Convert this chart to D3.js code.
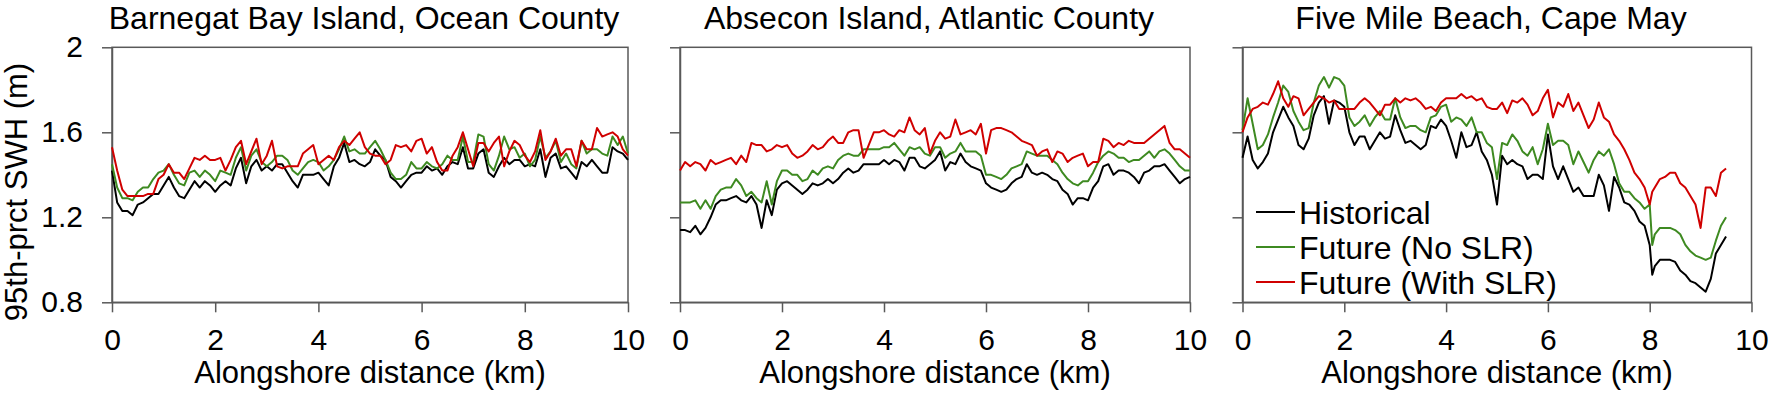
<!DOCTYPE html>
<html><head><meta charset="utf-8">
<script src="https://cdn.jsdelivr.net/npm/d3@7"></script>
<style>
body{margin:0;background:#fff;}
svg{display:block;font-family:"Liberation Sans",Arial,Helvetica,sans-serif;}
</style>
</head><body>
<svg id="chart" width="1772" height="394"></svg>
<script>
// ---------------- DATA ----------------
const panelTitles = ["Barnegat Bay Island, Ocean County", "Absecon Island, Atlantic County", "Five Mile Beach, Cape May"];
const seriesNames = ["Historical", "Future (No SLR)", "Future (With SLR)"];
const xTicks = [0, 2, 4, 6, 8, 10];
const yTicks = [0.8, 1.2, 1.6, 2];
const xLabel = "Alongshore distance (km)";
const yLabel = "95th-prct SWH (m)";

// alongshore distance (km), panels 1 & 2
const dist10 = [
  0,0.1,0.2,0.3,0.4,0.5,0.6,0.7,0.8,0.9,
  1,1.1,1.2,1.3,1.4,1.5,1.6,1.7,1.8,1.9,
  2,2.1,2.2,2.3,2.4,2.5,2.6,2.7,2.8,2.9,
  3,3.1,3.2,3.3,3.4,3.5,3.6,3.7,3.8,3.9,
  4,4.1,4.2,4.3,4.4,4.5,4.6,4.7,4.8,4.9,
  5,5.1,5.2,5.3,5.4,5.5,5.6,5.7,5.8,5.9,
  6,6.1,6.2,6.3,6.4,6.5,6.6,6.7,6.8,6.9,
  7,7.1,7.2,7.3,7.4,7.5,7.6,7.7,7.8,7.9,
  8,8.1,8.2,8.3,8.4,8.5,8.6,8.7,8.8,8.9,
  9,9.1,9.2,9.3,9.4,9.5,9.6,9.7,9.8,9.9,10
];
// alongshore distance (km), panel 3
const distCapeMay = [
  0,0.1,0.2,0.3,0.4,0.5,0.6,0.7,0.8,0.9,
  1,1.1,1.2,1.3,1.4,1.5,1.6,1.7,1.8,1.9,
  2,2.1,2.2,2.3,2.4,2.5,2.6,2.7,2.8,2.9,
  3,3.1,3.2,3.3,3.4,3.5,3.6,3.7,3.8,3.9,
  4,4.1,4.2,4.3,4.4,4.5,4.6,4.7,4.8,4.9,
  5,5.1,5.2,5.3,5.4,5.5,5.6,5.7,5.8,5.9,
  6,6.1,6.2,6.3,6.4,6.5,6.6,6.7,6.8,6.9,
  7,7.1,7.2,7.3,7.4,7.5,7.6,7.7,7.8,7.9,
  8,8.05,8.1,8.2,8.3,8.4,8.5,8.6,8.7,8.8,8.9,
  9,9.1,9.2,9.3,9.4,9.5
];

const barnegatHist = [
  1.42,1.27,1.23,1.23,1.21,1.26,1.27,1.29,1.31,1.31,
  1.35,1.39,1.34,1.30,1.29,1.33,1.37,1.34,1.37,1.35,
  1.32,1.35,1.37,1.35,1.43,1.48,1.36,1.44,1.47,1.42,
  1.44,1.42,1.45,1.45,1.41,1.37,1.34,1.40,1.40,1.40,
  1.41,1.38,1.35,1.44,1.48,1.55,1.46,1.47,1.45,1.44,
  1.46,1.52,1.49,1.47,1.39,1.37,1.34,1.37,1.40,1.41,
  1.41,1.44,1.42,1.43,1.40,1.44,1.46,1.45,1.53,1.43,
  1.43,1.50,1.52,1.41,1.39,1.44,1.48,1.45,1.47,1.47,
  1.44,1.45,1.44,1.52,1.39,1.48,1.50,1.43,1.44,1.41,
  1.38,1.46,1.44,1.47,1.44,1.41,1.41,1.53,1.51,1.50,1.47
];
const barnegatNoSLR = [
  1.45,1.34,1.29,1.29,1.28,1.32,1.34,1.34,1.38,1.41,
  1.42,1.45,1.40,1.36,1.35,1.41,1.42,1.39,1.42,1.40,
  1.37,1.42,1.41,1.40,1.48,1.53,1.42,1.49,1.52,1.46,
  1.44,1.46,1.49,1.49,1.47,1.42,1.40,1.43,1.46,1.47,
  1.46,1.42,1.44,1.47,1.52,1.58,1.51,1.52,1.50,1.50,
  1.53,1.56,1.52,1.47,1.41,1.38,1.38,1.40,1.46,1.43,
  1.43,1.46,1.44,1.43,1.45,1.49,1.47,1.47,1.58,1.46,
  1.46,1.59,1.58,1.45,1.42,1.49,1.58,1.52,1.53,1.48,
  1.50,1.44,1.47,1.58,1.48,1.51,1.56,1.46,1.50,1.45,
  1.43,1.56,1.50,1.52,1.52,1.50,1.49,1.58,1.54,1.58,1.50
];
const barnegatSLR = [
  1.53,1.42,1.33,1.30,1.30,1.30,1.30,1.31,1.31,1.38,
  1.40,1.45,1.41,1.41,1.38,1.43,1.48,1.47,1.49,1.47,
  1.47,1.48,1.42,1.47,1.53,1.56,1.45,1.51,1.57,1.45,
  1.49,1.56,1.44,1.43,1.44,1.44,1.44,1.50,1.52,1.54,
  1.45,1.47,1.49,1.47,1.53,1.56,1.54,1.57,1.60,1.53,
  1.50,1.49,1.49,1.45,1.47,1.54,1.53,1.54,1.51,1.56,
  1.57,1.50,1.53,1.46,1.42,1.42,1.49,1.53,1.60,1.52,
  1.44,1.55,1.55,1.51,1.55,1.58,1.44,1.51,1.56,1.54,
  1.49,1.46,1.51,1.61,1.47,1.51,1.57,1.49,1.52,1.52,
  1.44,1.56,1.52,1.52,1.62,1.58,1.59,1.60,1.58,1.52,1.49
];

const abseconHist = [
  1.14,1.14,1.13,1.16,1.12,1.15,1.20,1.26,1.28,1.28,
  1.29,1.30,1.28,1.27,1.30,1.26,1.15,1.28,1.21,1.33,
  1.36,1.37,1.35,1.33,1.31,1.33,1.36,1.35,1.36,1.38,
  1.36,1.38,1.41,1.43,1.41,1.42,1.45,1.45,1.45,1.45,
  1.47,1.45,1.47,1.46,1.42,1.48,1.48,1.44,1.43,1.45,
  1.47,1.51,1.42,1.46,1.45,1.50,1.46,1.44,1.43,1.42,
  1.36,1.34,1.33,1.32,1.33,1.36,1.38,1.39,1.45,1.41,
  1.40,1.41,1.40,1.38,1.37,1.33,1.31,1.26,1.29,1.29,
  1.28,1.34,1.37,1.44,1.45,1.40,1.42,1.42,1.41,1.39,
  1.36,1.41,1.42,1.44,1.44,1.45,1.42,1.39,1.36,1.38,1.39
];
const abseconNoSLR = [
  1.27,1.27,1.27,1.28,1.24,1.28,1.24,1.30,1.33,1.34,
  1.34,1.38,1.35,1.30,1.32,1.29,1.27,1.37,1.26,1.37,
  1.42,1.42,1.40,1.40,1.37,1.38,1.42,1.40,1.43,1.44,
  1.43,1.47,1.49,1.50,1.49,1.49,1.52,1.52,1.52,1.52,
  1.53,1.53,1.55,1.52,1.49,1.53,1.52,1.53,1.50,1.49,
  1.53,1.53,1.48,1.50,1.51,1.55,1.51,1.51,1.51,1.49,
  1.40,1.40,1.39,1.38,1.40,1.43,1.44,1.45,1.51,1.50,
  1.49,1.49,1.49,1.47,1.45,1.41,1.38,1.36,1.35,1.37,
  1.37,1.41,1.46,1.49,1.51,1.50,1.48,1.48,1.46,1.47,
  1.47,1.49,1.51,1.48,1.51,1.52,1.50,1.47,1.44,1.42,1.42
];
const abseconSLR = [
  1.42,1.46,1.44,1.46,1.45,1.42,1.47,1.45,1.46,1.47,
  1.48,1.45,1.49,1.46,1.55,1.54,1.54,1.51,1.52,1.54,
  1.53,1.54,1.50,1.48,1.49,1.51,1.54,1.52,1.53,1.56,
  1.58,1.55,1.55,1.60,1.61,1.61,1.48,1.54,1.60,1.60,
  1.61,1.59,1.58,1.61,1.60,1.67,1.61,1.59,1.62,1.50,
  1.56,1.60,1.57,1.58,1.66,1.59,1.60,1.61,1.59,1.64,
  1.50,1.61,1.62,1.62,1.61,1.60,1.58,1.56,1.55,1.54,
  1.49,1.51,1.52,1.46,1.51,1.50,1.46,1.48,1.49,1.50,
  1.44,1.46,1.46,1.57,1.56,1.53,1.55,1.54,1.56,1.55,
  1.55,1.55,1.57,1.59,1.61,1.63,1.55,1.52,1.52,1.50,1.48
];

const capeMayHist = [
  1.48,1.58,1.47,1.43,1.46,1.50,1.60,1.66,1.72,1.67,
  1.63,1.54,1.52,1.57,1.68,1.74,1.77,1.64,1.75,1.74,
  1.72,1.60,1.54,1.58,1.58,1.52,1.56,1.60,1.57,1.58,
  1.68,1.61,1.55,1.56,1.54,1.52,1.54,1.63,1.62,1.66,
  1.63,1.56,1.48,1.60,1.53,1.54,1.60,1.51,1.47,1.40,
  1.26,1.49,1.45,1.47,1.45,1.44,1.38,1.40,1.40,1.38,
  1.59,1.44,1.38,1.44,1.38,1.32,1.34,1.30,1.30,1.30,
  1.40,1.35,1.23,1.39,1.34,1.27,1.26,1.23,1.18,1.16,
  1.07,0.93,0.97,1.00,1.00,1.00,0.99,0.95,0.93,0.90,0.89,
  0.87,0.85,0.91,1.03,1.07,1.11
];
const capeMayNoSLR = [
  1.61,1.76,1.64,1.52,1.54,1.59,1.67,1.74,1.82,1.79,
  1.70,1.65,1.61,1.62,1.74,1.82,1.86,1.81,1.86,1.85,
  1.82,1.67,1.63,1.65,1.68,1.63,1.67,1.70,1.66,1.66,
  1.76,1.67,1.62,1.63,1.63,1.61,1.60,1.67,1.68,1.72,
  1.73,1.65,1.67,1.66,1.63,1.67,1.60,1.60,1.55,1.53,
  1.38,1.55,1.54,1.59,1.56,1.51,1.49,1.53,1.45,1.52,
  1.64,1.54,1.56,1.56,1.54,1.45,1.51,1.46,1.41,1.47,
  1.51,1.49,1.52,1.45,1.36,1.32,1.32,1.29,1.27,1.24,
  1.26,1.07,1.12,1.15,1.15,1.15,1.14,1.12,1.07,1.04,1.02,
  1.01,1.00,1.01,1.09,1.16,1.20
];
const capeMaySLR = [
  1.60,1.67,1.71,1.72,1.74,1.73,1.78,1.84,1.76,1.72,
  1.77,1.76,1.68,1.71,1.74,1.77,1.76,1.74,1.75,1.71,
  1.71,1.71,1.71,1.74,1.76,1.74,1.71,1.68,1.73,1.73,
  1.76,1.74,1.76,1.75,1.76,1.74,1.71,1.72,1.70,1.74,
  1.76,1.76,1.76,1.78,1.76,1.77,1.75,1.76,1.72,1.71,
  1.71,1.74,1.69,1.75,1.74,1.76,1.73,1.68,1.70,1.76,
  1.80,1.67,1.74,1.72,1.78,1.70,1.74,1.68,1.62,1.66,
  1.74,1.67,1.65,1.59,1.56,1.52,1.47,1.41,1.38,1.34,
  1.26,1.32,1.34,1.38,1.39,1.41,1.41,1.36,1.34,1.30,1.26,
  1.15,1.34,1.34,1.30,1.41,1.43
];

// ---------------- LAYOUT / STYLE ----------------
const seriesColors = ["#000000", "#3e8a21", "#d00000"];
const axisColor = "#595959";
const panelX = [[112, 628], [680, 1190], [1242.5, 1751.5]];
const plotTop = 47.3, plotBottom = 302.3;

const panels = [
  {title: panelTitles[0], dist: dist10, series: [barnegatHist, barnegatNoSLR, barnegatSLR], yLabels: true, legend: false},
  {title: panelTitles[1], dist: dist10, series: [abseconHist, abseconNoSLR, abseconSLR], yLabels: false, legend: false},
  {title: panelTitles[2], dist: distCapeMay, series: [capeMayHist, capeMayNoSLR, capeMaySLR], yLabels: false, legend: true}
];

const svg = d3.select("#chart");
svg.append("rect").attr("width", 1772).attr("height", 394).attr("fill", "#fff");

const y = d3.scaleLinear().domain([0.8, 2]).range([plotBottom, plotTop]);

panels.forEach((p, i) => {
  const x = d3.scaleLinear().domain([0, 10]).range(panelX[i]);
  const g = svg.append("g");

  // frame
  g.append("rect")
    .attr("x", panelX[i][0]).attr("y", plotTop)
    .attr("width", panelX[i][1] - panelX[i][0]).attr("height", plotBottom - plotTop)
    .attr("fill", "none").attr("stroke", axisColor).attr("stroke-width", 1.5);

  // y axis
  const yAxis = d3.axisLeft(y).tickValues(yTicks).tickSize(10).tickSizeOuter(0).tickPadding(19)
    .tickFormat(p.yLabels ? d3.format("") : () => "");
  const ya = g.append("g").attr("transform", `translate(${panelX[i][0]},0)`).call(yAxis);
  ya.select(".domain").attr("stroke", axisColor).attr("stroke-width", 1.5);
  ya.selectAll(".tick line").attr("stroke", axisColor).attr("stroke-width", 1.5);
  ya.selectAll(".tick text").attr("font-size", 30).attr("fill", "#000")
    .attr("font-family", "'Liberation Sans', Arial, sans-serif");

  // x axis
  const xAxis = d3.axisBottom(x).tickValues(xTicks).tickSize(10).tickSizeOuter(0).tickPadding(16)
    .tickFormat(d3.format(""));
  const xa = g.append("g").attr("transform", `translate(0,${plotBottom})`).call(xAxis);
  xa.select(".domain").attr("stroke", axisColor).attr("stroke-width", 1.5);
  xa.selectAll(".tick line").attr("stroke", axisColor).attr("stroke-width", 1.5);
  xa.selectAll(".tick text").attr("font-size", 30).attr("fill", "#000")
    .attr("font-family", "'Liberation Sans', Arial, sans-serif");

  // x label
  g.append("text").attr("x", (panelX[i][0] + panelX[i][1]) / 2).attr("y", 383)
    .attr("text-anchor", "middle").attr("font-size", 31).text(xLabel);

  // title
  g.append("text").attr("x", (panelX[i][0] + panelX[i][1]) / 2 - 6).attr("y", 29)
    .attr("text-anchor", "middle").attr("font-size", 32).text(p.title);

  // lines
  const line = d3.line().x((d, j) => x(p.dist[j])).y(d => y(d)).defined(d => d != null);
  p.series.forEach((s, k) => {
    g.append("path").datum(s).attr("d", line)
      .attr("fill", "none").attr("stroke", seriesColors[k]).attr("stroke-width", 2)
      .attr("stroke-linejoin", "round");
  });

  // legend
  if (p.legend) {
    const lg = g.append("g");
    seriesNames.forEach((n, k) => {
      const ly = 212 + k * 35;
      lg.append("line").attr("x1", 1256).attr("x2", 1295).attr("y1", ly).attr("y2", ly)
        .attr("stroke", seriesColors[k]).attr("stroke-width", 2);
      lg.append("text").attr("x", 1299).attr("y", ly + 11.5).attr("font-size", 32).text(n);
    });
  }
});

// y label
svg.append("text").attr("transform", "translate(27,192) rotate(-90)")
  .attr("text-anchor", "middle").attr("font-size", 31).text(yLabel);
</script>
</body></html>
